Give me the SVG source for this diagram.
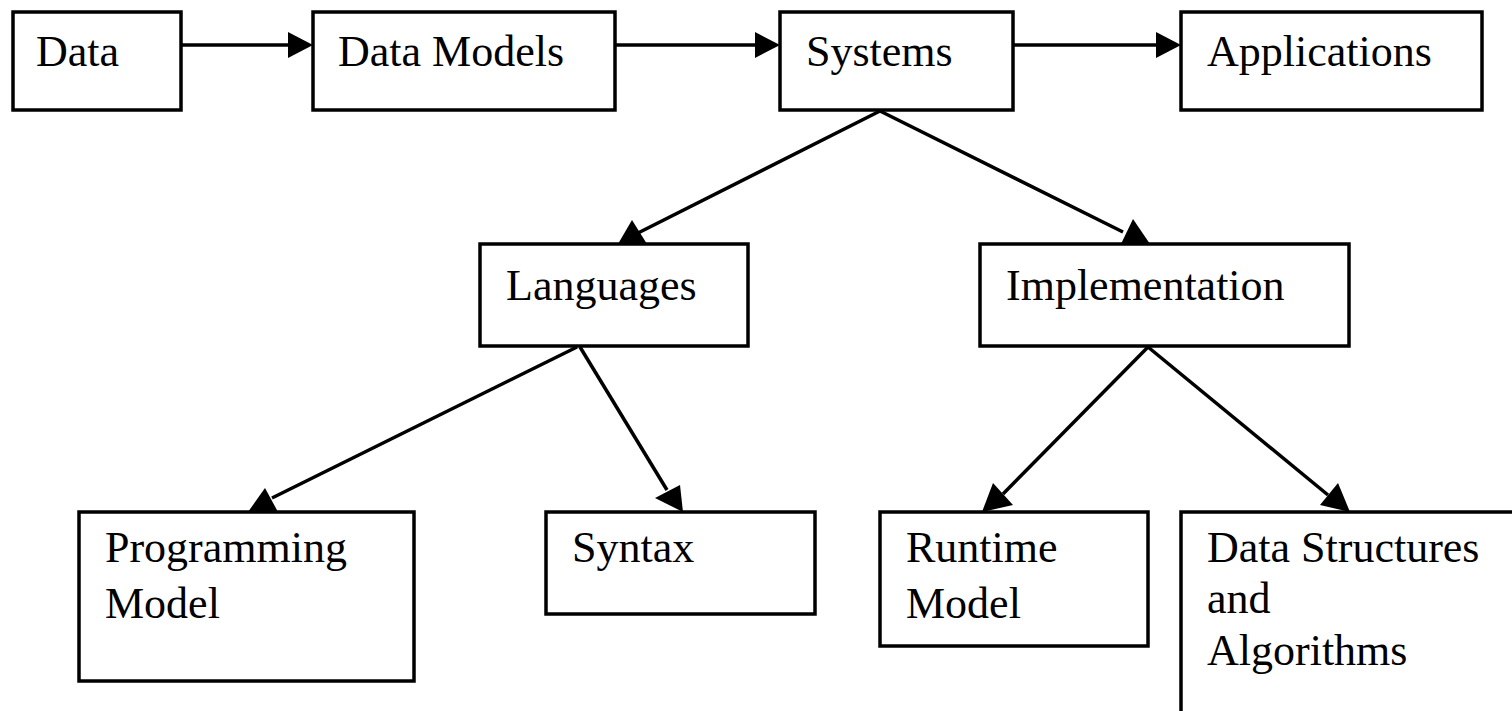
<svg xmlns="http://www.w3.org/2000/svg" width="1512" height="711" viewBox="0 0 1512 711">
<style>
.box{fill:#fff;stroke:#000;stroke-width:3.5}
.lbl{font-family:"Liberation Serif","Times New Roman",serif;font-size:44px;fill:#000}
.ln{stroke:#000;stroke-width:3.5;fill:none}
.ah{fill:#000;stroke:none}
</style>
<rect width="1512" height="711" fill="#fff"/>
<g id="connectors">
<line class="ln" x1="181" y1="45" x2="292" y2="45"/>
<polygon class="ah" points="313,45 288,32 288,58"/>
<line class="ln" x1="615" y1="45" x2="758" y2="45"/>
<polygon class="ah" points="780,45 755,32 755,58"/>
<line class="ln" x1="1013" y1="45" x2="1158" y2="45"/>
<polygon class="ah" points="1181,45 1156,32 1156,58"/>
<line class="ln" x1="880" y1="111" x2="638" y2="233"/>
<polygon class="ah" points="632,220 618,244 647,244"/>
<line class="ln" x1="880" y1="111" x2="1123" y2="232"/>
<polygon class="ah" points="1133,219 1121,244 1150,244"/>
<line class="ln" x1="577" y1="347" x2="272" y2="498"/>
<polygon class="ah" points="265,488 248,512 278,512"/>
<line class="ln" x1="580" y1="347" x2="667" y2="490"/>
<polygon class="ah" points="683,512 655,498 680,485"/>
<line class="ln" x1="1148" y1="347" x2="1003" y2="494"/>
<polygon class="ah" points="982,512 993,483 1013,505"/>
<line class="ln" x1="1148" y1="347" x2="1328" y2="495"/>
<polygon class="ah" points="1350,512 1338,483 1320,505"/>
</g>
<g id="data"><rect class="box" x="13" y="12" width="168" height="98"/><text class="lbl" x="36" y="66">Data</text></g>
<g id="data-models"><rect class="box" x="313" y="12" width="302" height="98"/><text class="lbl" x="338" y="66">Data Models</text></g>
<g id="systems"><rect class="box" x="780" y="12" width="233" height="98"/><text class="lbl" x="806" y="66">Systems</text></g>
<g id="applications"><rect class="box" x="1181" y="12" width="301" height="98"/><text class="lbl" x="1207" y="66">Applications</text></g>
<g id="languages"><rect class="box" x="480" y="244" width="268" height="102"/><text class="lbl" x="506" y="300">Languages</text></g>
<g id="implementation"><rect class="box" x="980" y="244" width="369" height="102"/><text class="lbl" x="1006" y="300">Implementation</text></g>
<g id="programming-model"><rect class="box" x="79" y="512" width="335" height="169"/><text class="lbl" x="105" y="562">Programming</text><text class="lbl" x="105" y="618">Model</text></g>
<g id="syntax"><rect class="box" x="546" y="512" width="269" height="102"/><text class="lbl" x="572" y="562">Syntax</text></g>
<g id="runtime-model"><rect class="box" x="880" y="512" width="268" height="134"/><text class="lbl" x="906" y="562">Runtime</text><text class="lbl" x="906" y="618">Model</text></g>
<g id="data-structures"><rect class="box" x="1181" y="512" width="400" height="300"/><text class="lbl" x="1207" y="562">Data Structures</text><text class="lbl" x="1207" y="613">and</text><text class="lbl" x="1207" y="665">Algorithms</text></g>
</svg>
